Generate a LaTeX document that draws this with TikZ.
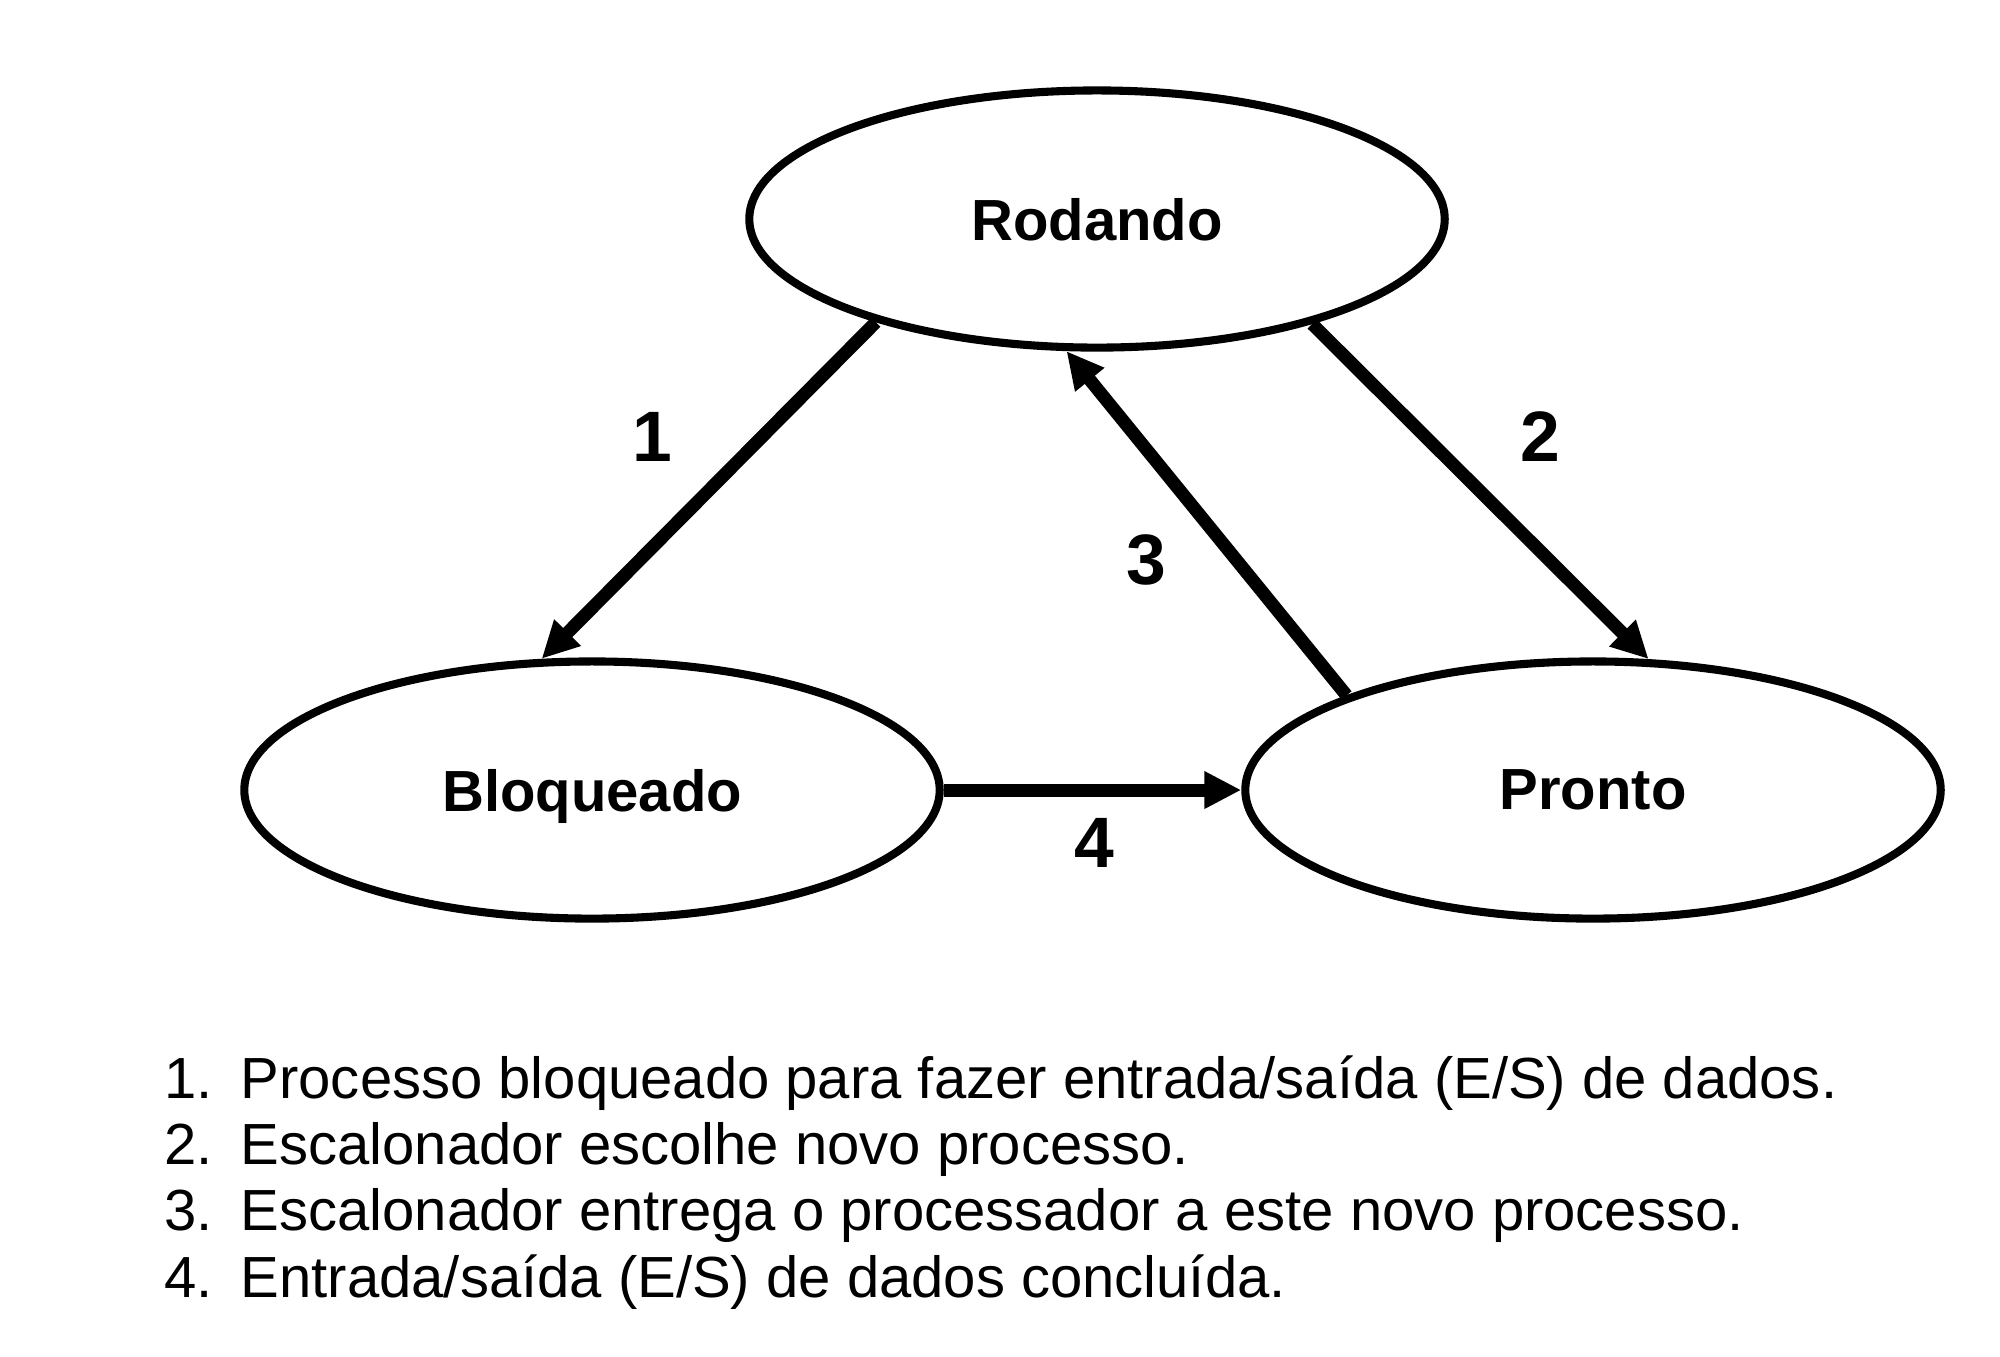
\documentclass[tikz,border=0pt]{standalone}
\usepackage{fontspec}
\setmainfont{Liberation Sans}
\usetikzlibrary{shapes.geometric,arrows.meta}
\begin{document}
\begin{tikzpicture}[x=0.01cm,y=-0.01cm,
  state/.style={ellipse,draw,line width=2.3pt,minimum width=6.95cm,minimum height=2.57cm,
    inner sep=0pt,text depth=0pt,font=\bfseries\fontsize{16.5pt}{19pt}\selectfont},
  trans/.style={line width=3.7pt,-{Triangle[length=10.5pt,width=10pt]}},
  numlabel/.style={inner sep=0pt,font=\bfseries\fontsize{20.3pt}{24pt}\selectfont},
  listtxt/.style={anchor=base west,inner sep=0pt,font=\fontsize{16.5pt}{19pt}\selectfont}]
\useasboundingbox (0,0) rectangle (2000,1356);
\node[state] (rod) at (1097,219) {Rodando};
\node[state] (blo) at (592,790) {Bloqueado};
\node[state] (pro) at (1593,790) {Pronto};
\draw[trans] (rod.205.4) -- (blo.111);
\draw[trans] (rod.334.8) -- (pro.67.3);
\draw[trans] (pro.159) -- (rod.257.5);
\draw[trans] (blo.east) -- (pro.west);
\node[numlabel] (l1) at (652,437) {1};
\node[numlabel] (l2) at (1540,437) {2};
\node[numlabel] (l3) at (1146,560) {3};
\node[numlabel] (l4) at (1094,843) {4};
\node[listtxt] (n1) at (164,1098) {1.};
\node[listtxt] (t1) at (240,1098) {Processo bloqueado para fazer entrada/saída (E/S) de dados.};
\node[listtxt] (n2) at (164,1164) {2.};
\node[listtxt] (t2) at (240,1164) {Escalonador escolhe novo processo.};
\node[listtxt] (n3) at (164,1230) {3.};
\node[listtxt] (t3) at (240,1230) {Escalonador entrega o processador a este novo processo.};
\node[listtxt] (n4) at (164,1297) {4.};
\node[listtxt] (t4) at (240,1297) {Entrada/saída (E/S) de dados concluída.};
\end{tikzpicture}
\end{document}
